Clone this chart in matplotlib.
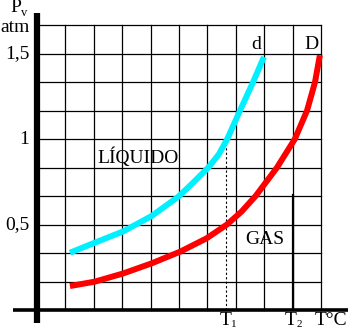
import numpy as np
import matplotlib.pyplot as plt

plt.rcParams['font.family'] = ['Liberation Serif', 'DejaVu Serif']

# curva de vapor del liquido (d) y del gas (D), T en divisiones de la reja, P en atm
liq_t = [1.16, 1.98, 3.04, 4.04, 4.98, 5.5, 6.03, 6.4, 6.7, 7.15, 7.61, 7.99]
liq_p = [0.335, 0.39, 0.46, 0.55, 0.663, 0.745, 0.833, 0.91, 1.0, 1.167, 1.333, 1.48]

gas_t = [1.16, 2.04, 3.04, 4.04, 5.04, 5.97, 6.69, 7.2, 7.7, 8.45, 9.08, 9.51, 9.79, 9.96]
gas_p = [0.14, 0.166, 0.214, 0.273, 0.341, 0.419, 0.5, 0.575, 0.667, 0.833, 1.0, 1.167, 1.333, 1.49]

yticks = [0.5, 1.0, 1.5]
ytick_labels = ["0,5", "1", "1,5"]

n_cols = 10
n_rows = 10
row_step = 1 / 6

t1 = 6.67
t1_top = 0.98
t2 = 9.01
t2_top = 0.67

fig = plt.figure(figsize=(3.48, 3.32), dpi=100)
ax = fig.add_axes([0, 0, 1, 1])
ax.set_xlim(-37 / 28.4, (348 - 37) / 28.4)
ax.set_ylim(-22 / 171, 310 / 171)
ax.axis("off")

top = n_rows * row_step
# reja
for k in range(1, n_cols + 1):
    ax.plot([k, k], [0, top], color="black", lw=0.9, zorder=1)
for k in range(1, n_rows + 1):
    ax.plot([0, n_cols], [k * row_step, k * row_step], color="black", lw=0.9, zorder=1)

# ejes
ax.plot([0, 0], [-0.076, 1.737], color="black", lw=4.5, solid_capstyle="butt", zorder=3)
ax.plot([-0.845, 11], [0, 0], color="black", lw=2.6, solid_capstyle="butt", zorder=3)

# T1 y T2
ax.plot([t1, t1], [0, t1_top], color="black", lw=0.8, ls=(0, (2, 2)), zorder=1)
ax.plot([t2, t2], [0, t2_top], color="black", lw=1.6, zorder=1)

ax.plot(liq_t, liq_p, color="#00f0ff", lw=4.3, solid_capstyle="butt",
        solid_joinstyle="round", zorder=2)
ax.plot(gas_t, gas_p, color="#ff0000", lw=4.3, solid_capstyle="butt",
        solid_joinstyle="round", zorder=2)

fs = 14
for v, lab in zip(yticks, ytick_labels):
    ax.text(-0.27, v, lab, ha="right", va="center", fontsize=fs)

ax.text(-0.76, 1.77, "P", ha="center", va="center", fontsize=fs)
ax.text(-0.44, 1.735, "v", ha="center", va="center", fontsize=9)
ax.text(-0.78, 1.652, "atm", ha="center", va="center", fontsize=fs)

ax.text(7.71, 1.55, "d", ha="center", va="center", fontsize=fs)
ax.text(9.68, 1.55, "D", ha="center", va="center", fontsize=fs)

ax.text(3.56, 0.895, "LÍQUIDO", ha="center", va="center", fontsize=fs)
ax.text(8.01, 0.415, "GAS", ha="center", va="center", fontsize=fs)

ax.text(6.64, -0.064, "T", ha="center", va="center", fontsize=fs)
ax.text(6.93, -0.085, "1", ha="center", va="center", fontsize=8)
ax.text(8.94, -0.064, "T", ha="center", va="center", fontsize=fs)
ax.text(9.25, -0.085, "2", ha="center", va="center", fontsize=8)
ax.text(10.35, -0.064, "T°C", ha="center", va="center", fontsize=fs)

fig.savefig("out.png", dpi=100)
